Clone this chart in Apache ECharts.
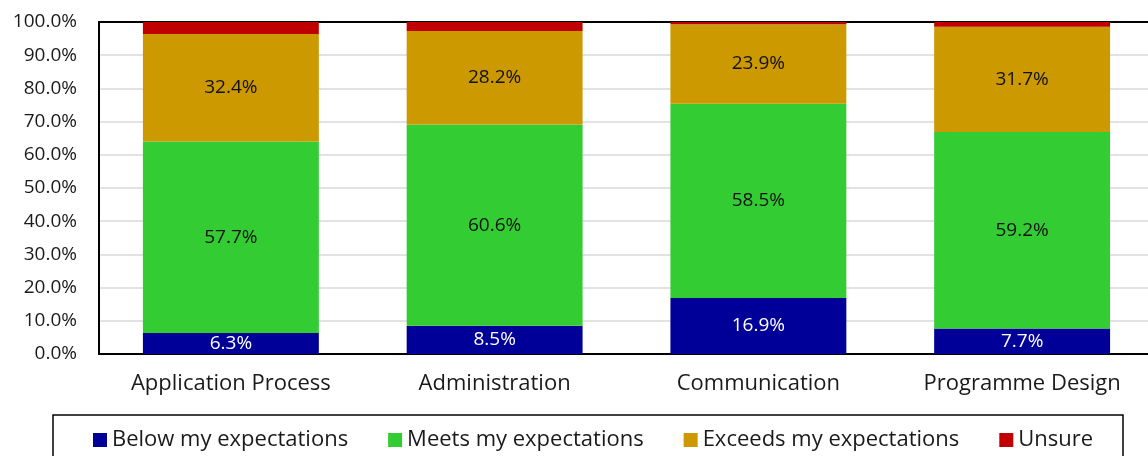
<!DOCTYPE html>
<html>
<head>
<meta charset="utf-8">
<script src="https://cdn.jsdelivr.net/npm/echarts@6/dist/echarts.min.js"></script>
<style>
html,body{margin:0;padding:0;background:#fff;}
#chart{width:1148px;height:456px;}
</style>
</head>
<body>
<div id="chart"></div>
<script>
const categories = ['Application Process', 'Administration', 'Communication', 'Programme Design'];
const seriesNames = ['Below my expectations', 'Meets my expectations', 'Exceeds my expectations', 'Unsure'];
const below = [6.3, 8.5, 16.9, 7.7];
const meets = [57.7, 60.6, 58.5, 59.2];
const exceeds = [32.4, 28.2, 23.9, 31.7];
const unsure = [3.6, 2.7, 0.7, 1.4];
const colors = ['#000099', '#33CC33', '#CC9900', '#C00000'];
const labelColors = ['#ffffff', '#111111', '#111111', null];

const FONT = 'Open Sans';
const chart = echarts.init(document.getElementById('chart'), null, {renderer: 'canvas'});
const data = [below, meets, exceeds, unsure];
const series = seriesNames.map((name, i) => ({
  name: name,
  type: 'bar',
  stack: 'total',
  barCategoryGap: '33.3%',
  data: data[i],
  itemStyle: {color: colors[i]},
  label: {
    show: labelColors[i] !== null,
    position: 'inside',
    color: labelColors[i] || '#000',
    fontFamily: FONT,
    fontSize: 19,
    formatter: p => p.value.toFixed(1) + '%'
  }
}));

chart.setOption({
  animation: false,
  textStyle: {fontFamily: FONT},
  grid: {left: 99, width: 1055, top: 22, height: 332, show: true, borderColor: '#000', borderWidth: 2, containLabel: false, outerBoundsMode: 'none'},
  xAxis: {
    type: 'category',
    data: categories,
    axisLine: {show: true, lineStyle: {color: '#000', width: 2}},
    axisTick: {show: false},
    axisLabel: {color: '#1a1a1a', fontSize: 22, fontFamily: FONT, margin: 19}
  },
  yAxis: {
    type: 'value',
    min: 0, max: 100, interval: 10,
    axisLine: {show: true, lineStyle: {color: '#000', width: 2}},
    axisTick: {show: false},
    splitLine: {show: true, lineStyle: {color: '#D9D9D9', width: 1.5}},
    axisLabel: {color: '#1a1a1a', fontSize: 19, fontFamily: FONT, margin: 22, formatter: v => v.toFixed(1) + '%'}
  },
  legend: {
    data: seriesNames,
    left: 88,
    top: 424,
    itemWidth: 14,
    itemHeight: 14,
    itemGap: 40,
    icon: 'rect',
    textStyle: {fontSize: 22, color: '#1a1a1a', fontFamily: FONT}
  },
  graphic: [{
    type: 'rect',
    shape: {x: 53, y: 415, width: 1070, height: 80},
    style: {fill: 'none', stroke: '#000', lineWidth: 1.5},
    silent: true
  }, {
    type: 'line',
    shape: {x1: 98, y1: 22, x2: 1160, y2: 22},
    style: {stroke: '#000', lineWidth: 2},
    z: 1,
    silent: true
  }],
  series: series
});
</script>
</body>
</html>
